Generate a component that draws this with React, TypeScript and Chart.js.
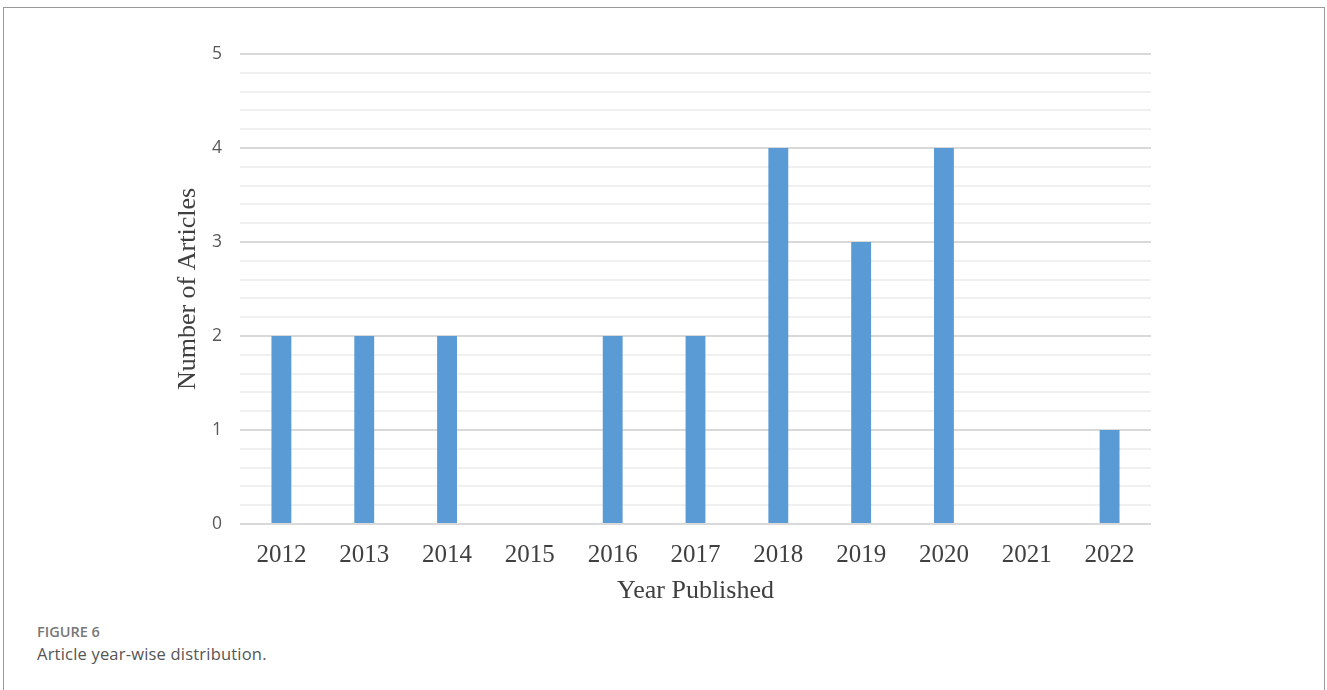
import React, { useEffect, useRef } from "react";
import { Chart, registerables } from "chart.js";

Chart.register(...registerables);

const years = ["2012", "2013", "2014", "2015", "2016", "2017", "2018", "2019", "2020", "2021", "2022"];
const articleCounts = [2, 2, 2, 0, 2, 2, 4, 3, 4, 0, 1];
const yAxisTitle = "Number of Articles";
const xAxisTitle = "Year Published";
const figureLabel = "FIGURE 6";
const figureCaption = "Article year-wise distribution.";

const isMajor = (v: number) => Math.abs(v - Math.round(v)) < 1e-6;

export default function App() {
  const ref = useRef<HTMLCanvasElement | null>(null);

  useEffect(() => {
    if (!ref.current) return;
    const chart = new Chart(ref.current, {
      type: "bar",
      data: {
        labels: years,
        datasets: [
          {
            data: articleCounts,
            backgroundColor: "#5b9bd5",
            borderWidth: 0,
            barPercentage: 0.24,
            categoryPercentage: 1,
          },
        ],
      },
      options: {
        animation: false,
        responsive: false,
        maintainAspectRatio: false,
        layout: { padding: { left: 169, right: 173, top: 46, bottom: 13 } },
        plugins: { legend: { display: false }, tooltip: { enabled: false } },
        scales: {
          x: {
            grid: { display: false, drawTicks: false },
            border: { display: false },
            ticks: {
              color: "#404040",
              padding: 16,
              font: { family: "'Liberation Serif', 'Times New Roman', serif", size: 25 },
            },
            title: {
              display: true,
              text: xAxisTitle,
              color: "#404040",
              padding: 0,
              font: { family: "'Liberation Serif', 'Times New Roman', serif", size: 26 },
            },
            afterFit: (s: any) => {
              s.height = 83;
            },
          },
          y: {
            min: 0,
            max: 5,
            grid: {
              drawTicks: false,
              color: (ctx: any) => (isMajor(ctx.tick?.value ?? 0) ? "#d9d9d9" : "#f0f0f0"),
              lineWidth: 2,
            },
            border: { display: false },
            ticks: {
              stepSize: 0.2,
              color: "#595959",
              padding: 18,
              autoSkip: false,
              font: { family: "'Open Sans', sans-serif", size: 17.5 },
              callback: (v: any) => (isMajor(Number(v)) ? String(Math.round(Number(v))) : ""),
            },
            title: {
              display: true,
              text: yAxisTitle,
              color: "#404040",
              padding: 0,
              font: { family: "'Liberation Serif', 'Times New Roman', serif", size: 26 },
            },
            afterFit: (s: any) => {
              s.width = 67;
            },
          },
        },
      },
    });
    return () => chart.destroy();
  }, []);

  return (
    <div
      style={{
        position: "fixed",
        left: 0,
        top: 0,
        width: 1327,
        height: 690,
        overflow: "hidden",
        background: "#fff",
      }}
    >
      <div
        style={{
          position: "absolute",
          left: 3,
          top: 7,
          width: 1322,
          height: 720,
          border: "1px solid #9a9a9a",
          boxSizing: "border-box",
        }}
      />
      <canvas
        ref={ref}
        width={1320}
        height={612}
        style={{ position: "absolute", left: 4, top: 8, width: 1320, height: 612 }}
      />
      <div
        style={{
          position: "absolute",
          left: 37,
          top: 622,
          fontFamily: "'Open Sans', sans-serif",
          fontSize: 14.5,
          fontWeight: 600,
          color: "#777",
          lineHeight: "20px",
          whiteSpace: "nowrap",
        }}
      >
        {figureLabel}
      </div>
      <div
        style={{
          position: "absolute",
          left: 37,
          top: 643,
          fontFamily: "'Open Sans', sans-serif",
          fontSize: 16.5,
          letterSpacing: 0.2,
          color: "#555",
          lineHeight: "22px",
          whiteSpace: "nowrap",
        }}
      >
        {figureCaption}
      </div>
    </div>
  );
}
